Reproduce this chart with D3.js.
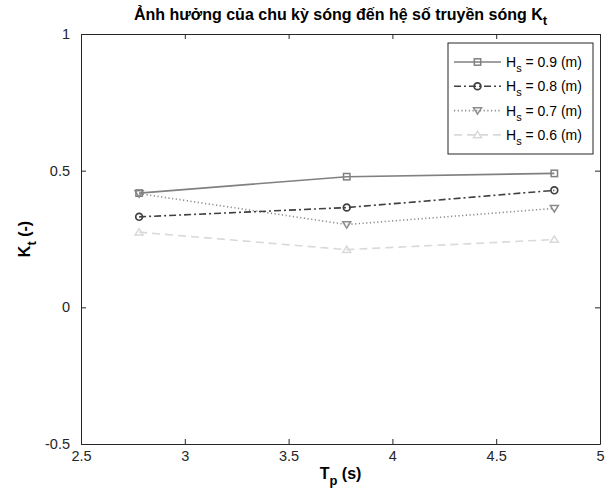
<!DOCTYPE html>
<html>
<head>
<meta charset="utf-8">
<script src="https://cdn.jsdelivr.net/npm/d3@7"></script>
<style>
  html, body { margin: 0; padding: 0; background: #fff; }
  svg { display: block; font-family: "Liberation Sans", Arial, Helvetica, sans-serif; }
</style>
</head>
<body>
<svg id="chart" width="613" height="493"></svg>
<script>
// Wave period (s) for each measurement
const periods = [2.78, 3.78, 4.78];

// Transmission coefficient Kt for each significant wave height
const kt09 = [0.418, 0.478, 0.490];
const kt08 = [0.331, 0.365, 0.428];
const kt07 = [0.416, 0.303, 0.362];
const kt06 = [0.275, 0.211, 0.248];

const seriesLabels = ["0.9", "0.8", "0.7", "0.6"];
const xTicks = [2.5, 3, 3.5, 4, 4.5, 5];
const yTicks = [-0.5, 0, 0.5, 1];

const series = [
  { h: seriesLabels[0], values: kt09, color: "#808080", dash: null, marker: "square" },
  { h: seriesLabels[1], values: kt08, color: "#404040", dash: "7,3,2,3", marker: "circle" },
  { h: seriesLabels[2], values: kt07, color: "#8c8c8c", dash: "1.2,2.5", marker: "triDown" },
  { h: seriesLabels[3], values: kt06, color: "#d9d9d9", dash: "8,5", marker: "triUp" }
];

const svg = d3.select("#chart");
const plotLeft = 81, plotRight = 600, plotTop = 34, plotBottom = 444;

const x = d3.scaleLinear().domain([2.5, 5]).range([plotLeft, plotRight]);
const y = d3.scaleLinear().domain([-0.5, 1]).range([plotBottom, plotTop]);

const axisColor = "#262626";
const tickLen = 5;
const plainNumber = d => String(d);

// Axes with inward ticks on all four sides (boxed frame)
const gx = svg.append("g").attr("transform", `translate(0,${plotBottom})`)
  .call(d3.axisBottom(x).tickValues(xTicks).tickSizeInner(-tickLen).tickSizeOuter(0)
    .tickPadding(7).tickFormat(plainNumber));
const gxTop = svg.append("g").attr("transform", `translate(0,${plotTop})`)
  .call(d3.axisTop(x).tickValues(xTicks).tickSizeInner(-tickLen).tickSizeOuter(0).tickFormat(""));
const gy = svg.append("g").attr("transform", `translate(${plotLeft},0)`)
  .call(d3.axisLeft(y).tickValues(yTicks).tickSizeInner(-tickLen).tickSizeOuter(0)
    .tickPadding(11).tickFormat(plainNumber));
const gyRight = svg.append("g").attr("transform", `translate(${plotRight},0)`)
  .call(d3.axisRight(y).tickValues(yTicks).tickSizeInner(-tickLen).tickSizeOuter(0).tickFormat(""));

[gx, gxTop, gy, gyRight].forEach(g => {
  g.select(".domain").attr("stroke", axisColor).attr("stroke-width", 1);
  g.selectAll(".tick line").attr("stroke", axisColor).attr("stroke-width", 1);
  g.selectAll(".tick text").attr("fill", axisColor).style("font-size", "14.5px")
    .style("font-family", "'Liberation Sans', Arial, sans-serif");
});

// Lines
const line = d3.line().x((d, i) => x(periods[i])).y(d => y(d));

function drawMarker(g, type, cx, cy, color) {
  if (type === "square") {
    g.append("rect").attr("x", cx - 3.2).attr("y", cy - 3.2).attr("width", 6.4).attr("height", 6.4)
      .attr("fill", "none").attr("stroke", color).attr("stroke-width", 1.5);
  } else if (type === "circle") {
    g.append("circle").attr("cx", cx).attr("cy", cy).attr("r", 3.4)
      .attr("fill", "none").attr("stroke", color).attr("stroke-width", 1.7);
  } else if (type === "triDown") {
    const s = 4;
    g.append("path").attr("d", `M${cx - s},${cy - s * 0.7}L${cx + s},${cy - s * 0.7}L${cx},${cy + s * 0.9}Z`)
      .attr("fill", "none").attr("stroke", color).attr("stroke-width", 1.5);
  } else {
    const s = 4;
    g.append("path").attr("d", `M${cx - s},${cy + s * 0.7}L${cx + s},${cy + s * 0.7}L${cx},${cy - s * 0.9}Z`)
      .attr("fill", "none").attr("stroke", color).attr("stroke-width", 1.5);
  }
}

// Draw in reverse so the darker series sit on top
series.slice().reverse().forEach(s => {
  const g = svg.append("g");
  g.append("path").datum(s.values).attr("d", line)
    .attr("fill", "none").attr("stroke", s.color).attr("stroke-width", 1.6)
    .attr("stroke-dasharray", s.dash);
  s.values.forEach((v, i) => drawMarker(g, s.marker, x(periods[i]), y(v), s.color));
});

// Legend
const lg = svg.append("g");
const lx = 448, ly = 43, lw = 145, lh = 111;
lg.append("rect").attr("x", lx).attr("y", ly).attr("width", lw).attr("height", lh)
  .attr("fill", "#fff").attr("stroke", axisColor).attr("stroke-width", 1);
series.forEach((s, i) => {
  const cy = 62 + i * 24.3;
  lg.append("line").attr("x1", 454).attr("x2", 501).attr("y1", cy).attr("y2", cy)
    .attr("stroke", s.color).attr("stroke-width", 1.6).attr("stroke-dasharray", s.dash);
  drawMarker(lg, s.marker, 477.5, cy, s.color);
  const t = lg.append("text").attr("x", 506).attr("y", cy + 5)
    .attr("fill", "#000").style("font-size", "14px");
  t.append("tspan").text("H");
  t.append("tspan").attr("dy", 5).style("font-size", "11px").text("s");
  t.append("tspan").attr("dy", -5).text(` = ${s.h} (m)`);
});

// Title
const title = svg.append("text").attr("x", (plotLeft + plotRight) / 2).attr("y", 20)
  .attr("text-anchor", "middle").style("font-weight", "bold").style("font-size", "16px").attr("fill", "#000");
title.append("tspan").text("Ảnh hưởng của chu kỳ sóng đến hệ số truyền sóng K");
title.append("tspan").attr("dy", 5).style("font-size", "13px").text("t");

// X axis label
const xl = svg.append("text").attr("x", (plotLeft + plotRight) / 2).attr("y", 479)
  .attr("text-anchor", "middle").style("font-weight", "bold").style("font-size", "16px").attr("fill", "#000");
xl.append("tspan").text("T");
xl.append("tspan").attr("dy", 6).style("font-size", "13px").text("p");
xl.append("tspan").attr("dy", -6).text(" (s)");

// Y axis label
const yl = svg.append("text").attr("transform", `translate(30,${(plotTop + plotBottom) / 2}) rotate(-90)`)
  .attr("text-anchor", "middle").style("font-weight", "bold").style("font-size", "16px").attr("fill", "#000");
yl.append("tspan").text("K");
yl.append("tspan").attr("dy", 6).style("font-size", "13px").text("t");
yl.append("tspan").attr("dy", -6).text(" (-)");
</script>
</body>
</html>
